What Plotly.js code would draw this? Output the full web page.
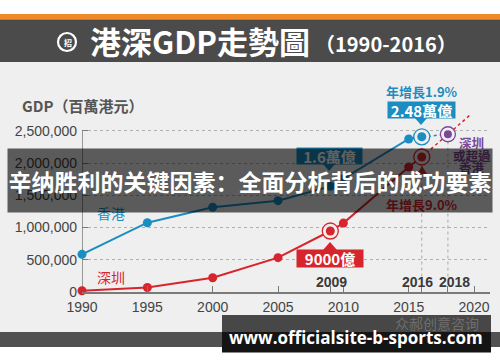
<!DOCTYPE html>
<html><head><meta charset="utf-8">
<script src="https://cdn.plot.ly/plotly-3.0.1.min.js"></script>
<style>html,body{margin:0;padding:0;background:#efefef;}#chart{width:500px;height:362px;}</style>
</head><body><div id="chart"></div>
<script>
// ---- data (million HKD) ----
const hkYears = [1990, 1995, 2000, 2005, 2009, 2010, 2015, 2016];
const hkGDP   = [585000, 1076000, 1315000, 1418000, 1640000, 1760000, 2376000, 2410000];
const szYears = [1990, 1995, 2000, 2005, 2009, 2010, 2015, 2016];
const szGDP   = [20000, 70000, 222000, 533000, 947000, 1070000, 1940000, 2096000];
const hkProjYears = [2016, 2018];
const hkProjGDP   = [2410000, 2449000];
const szProjYears = [2016, 2018, 2019.8];
const szProjGDP   = [2096000, 2449000, 2766000];
const crossYears = [2018];
const crossGDP   = [2449000];
const hkHighlight = [2016];
const szHighlight = [2009, 2016];
const xTickVals = [1990, 1995, 2000, 2005, 2009, 2010, 2015, 2016, 2018, 2020];
const xTickText = ['1990', '1995', '2000', '2005', '', '2010', '2015', '', '', '2020'];
const yTickVals = [0, 500000, 1000000, 1500000, 2000000, 2500000];

const BLUE = '#1b8dc0', RED = '#d7252d', PURPLE = '#7b4797';

// ---- pixel -> paper helpers for decorations ----
const L = 82, T = 100, PW = 408, PH = 192;
const fx = p => (p - L) / PW;
const fy = p => (T + PH - p) / PH;
function rect(x0, y0, x1, y1, color, layer) {
  return {type: 'rect', xref: 'paper', yref: 'paper', x0: fx(x0), x1: fx(x1), y0: fy(y1), y1: fy(y0),
          fillcolor: color, line: {width: 0}, layer: layer || 'above'};
}
function tri(pts, color) {
  const d = pts.map((p, i) => (i ? 'L' : 'M') + fx(p[0]) + ',' + fy(p[1])).join(' ') + ' Z';
  return {type: 'path', xref: 'paper', yref: 'paper', path: d, fillcolor: color, line: {width: 0}, layer: 'above'};
}
function txt(x, y, text, size, color, extra) {
  return Object.assign({xref: 'paper', yref: 'paper', x: fx(x), y: fy(y), text: text, showarrow: false,
    xanchor: 'center', yanchor: 'middle',
    font: {size: size, color: color, family: 'Noto Sans CJK TC, Liberation Sans, sans-serif', weight: 'bold'}}, extra || {});
}
function pick(years, vals, sel) { return sel.map(y => vals[years.indexOf(y)]); }

const traces = [
  {x: szProjYears, y: szProjGDP, mode: 'lines', line: {color: RED, width: 1.5, dash: 'dot'}, cliponaxis: false},
  {x: hkProjYears, y: hkProjGDP, mode: 'lines', line: {color: BLUE, width: 1.5, dash: 'dot'}, cliponaxis: false},
  {x: hkYears, y: hkGDP, mode: 'lines+markers', line: {color: BLUE, width: 2}, marker: {color: BLUE, size: 9}, cliponaxis: false},
  {x: szYears, y: szGDP, mode: 'lines+markers', line: {color: RED, width: 2}, marker: {color: RED, size: 9}, cliponaxis: false},
  {x: hkHighlight, y: pick(hkYears, hkGDP, hkHighlight), mode: 'markers', cliponaxis: false,
   marker: {size: 16, color: '#efefef', line: {color: BLUE, width: 1.3}}},
  {x: hkHighlight, y: pick(hkYears, hkGDP, hkHighlight), mode: 'markers', cliponaxis: false, marker: {size: 9, color: BLUE}},
  {x: szHighlight, y: pick(szYears, szGDP, szHighlight), mode: 'markers', cliponaxis: false,
   marker: {size: 16, color: '#efefef', line: {color: RED, width: 1.3}}},
  {x: szHighlight, y: pick(szYears, szGDP, szHighlight), mode: 'markers', cliponaxis: false, marker: {size: 9, color: RED}},
  {x: crossYears, y: crossGDP, mode: 'markers', cliponaxis: false,
   marker: {size: 15, color: '#efefef', line: {color: PURPLE, width: 1.3}}},
  {x: crossYears, y: crossGDP, mode: 'markers', cliponaxis: false, marker: {size: 8, color: PURPLE}}
];

const shapes = [
  rect(0, 0, 500, 14, '#ffffff', 'below'),
  rect(0, 14, 500, 19.5, '#f08a28', 'below'),
  rect(0, 19.5, 500, 62, '#4b4b4b', 'below'),
  {type: 'circle', xref: 'paper', yref: 'paper', x0: fx(58), x1: fx(76), y0: fy(51), y1: fy(33), line: {color: '#fff', width: 2.2}, layer: 'below'},
  // y axis line to 2.5M
  {type: 'line', xref: 'x', yref: 'y', x0: 1990, x1: 1990, y0: 0, y1: 2500000, line: {color: '#7a7a7a', width: 1.5}, layer: 'below'},
  // vertical dotted markers at 2016 and 2018
  {type: 'line', xref: 'x', yref: 'y', x0: 2016, x1: 2016, y0: 240000, y1: 2500000, line: {color: '#aaaaaa', width: 1, dash: 'dot'}, layer: 'below'},
  {type: 'line', xref: 'x', yref: 'y', x0: 2018, x1: 2018, y0: 240000, y1: 2500000, line: {color: '#aaaaaa', width: 1, dash: 'dot'}, layer: 'below'},
  // pointers
  tri([[414, 117], [428, 117], [421, 125]], BLUE),
  tri([[322, 163], [336, 163], [329, 171]], BLUE),
  tri([[323, 250], [337, 250], [330, 242]], RED),
  tri([[417, 174], [427, 174], [422, 166]], RED),
  // bottom bars
  rect(0, 332, 500, 347, '#515151'),
  rect(0, 347, 500, 362, '#ffffff'),
  rect(222, 315, 491, 332, '#474747'),
  rect(222, 332, 491, 352.5, '#141414')
];

const annotations = [
  txt(68, 42, '招', 8, '#fff'),
  txt(88, 41, '港深GDP走勢圖', 31, '#fff', {xanchor: 'left'}),
  txt(313, 43, '（1990-2016）', 20, '#fff', {xanchor: 'left'}),
  txt(20, 105, 'GDP（百萬港元）', 15, '#555', {xanchor: 'left'}),
  txt(422, 92, '年增長1.9%', 13, BLUE),
  txt(421.5, 110, '2.48萬億', 15, '#fff', {bgcolor: BLUE, width: 67, height: 16, borderpad: 0}),
  txt(329, 156, '1.6萬億', 15, '#fff', {bgcolor: BLUE, width: 65, height: 16, borderpad: 0}),
  txt(330, 258.5, '9000億', 15, '#fff', {bgcolor: RED, width: 66, height: 17, borderpad: 0}),
  txt(422, 204, '年增長9.0%', 13, RED),
  txt(471.5, 142, '深圳', 12.5, PURPLE),
  txt(471.5, 155.5, '或超過', 12.5, PURPLE),
  txt(471.5, 167.5, '香港', 12.5, PURPLE),
  txt(111, 212.5, '香港', 14, BLUE, {font: {size: 14, color: BLUE, family: 'Noto Sans CJK TC'}}),
  txt(111, 277, '深圳', 14, RED, {font: {size: 14, color: RED, family: 'Noto Sans CJK TC'}}),
  txt(331, 282, '2009', 14, '#3a3a3a', {font: {size: 14, color: '#3a3a3a', family: 'Liberation Sans', weight: 'bold'}}),
  txt(417, 282, '2016', 14, '#3a3a3a', {font: {size: 14, color: '#3a3a3a', family: 'Liberation Sans', weight: 'bold'}}),
  txt(454, 282, '2018', 14, '#3a3a3a', {font: {size: 14, color: '#3a3a3a', family: 'Liberation Sans', weight: 'bold'}}),
  // middle overlay banner
  txt(250, 180.7, '辛纳胜利的关键因素：全面分析背后的成功要素', 23, '#ffffff',
      {bgcolor: 'rgba(0,0,0,0.62)', width: 484, height: 63, borderpad: 0,
       font: {size: 23, color: '#fff', family: 'Noto Sans CJK SC', weight: 'bold'}}),
  txt(437, 323, '众郝创意咨询', 14, 'rgba(255,255,255,0.22)', {font: {size: 14, color: 'rgba(255,255,255,0.22)', family: 'Noto Sans CJK SC'}}),
  txt(356, 337.5, 'www.officialsite-b-sports.com', 17, '#fff', {font: {size: 17, color: '#fff', family: 'Open Sans', weight: 'bold'}})
];

const layout = {
  width: 500, height: 362,
  margin: {l: L, r: 500 - L - PW, t: T, b: 362 - T - PH, pad: 0},
  paper_bgcolor: '#efefef', plot_bgcolor: 'rgba(0,0,0,0)',
  showlegend: false, hovermode: false,
  font: {family: 'Liberation Sans, Arial, sans-serif', color: '#444'},
  xaxis: {range: [1990, 2021.22], tickvals: xTickVals, ticktext: xTickText, showgrid: false, zeroline: false,
          showline: true, linecolor: '#7a7a7a', linewidth: 1.5, ticks: 'inside', ticklen: 6, tickcolor: '#7a7a7a',
          tickfont: {size: 14, color: '#444'}, ticklabelstandoff: 2},
  yaxis: {range: [0, 2981000], tickvals: yTickVals, tickformat: ',d', showgrid: true, gridcolor: '#b0b0b0',
          griddash: 'dot', gridwidth: 1, zeroline: false, showline: false, ticks: 'inside', ticklen: 6,
          tickcolor: '#7a7a7a', tickfont: {size: 14, color: '#444'}, ticklabelstandoff: 4},
  shapes: shapes,
  annotations: annotations
};

Plotly.newPlot('chart', traces, layout, {staticPlot: true, displayModeBar: false});
</script></body></html>
